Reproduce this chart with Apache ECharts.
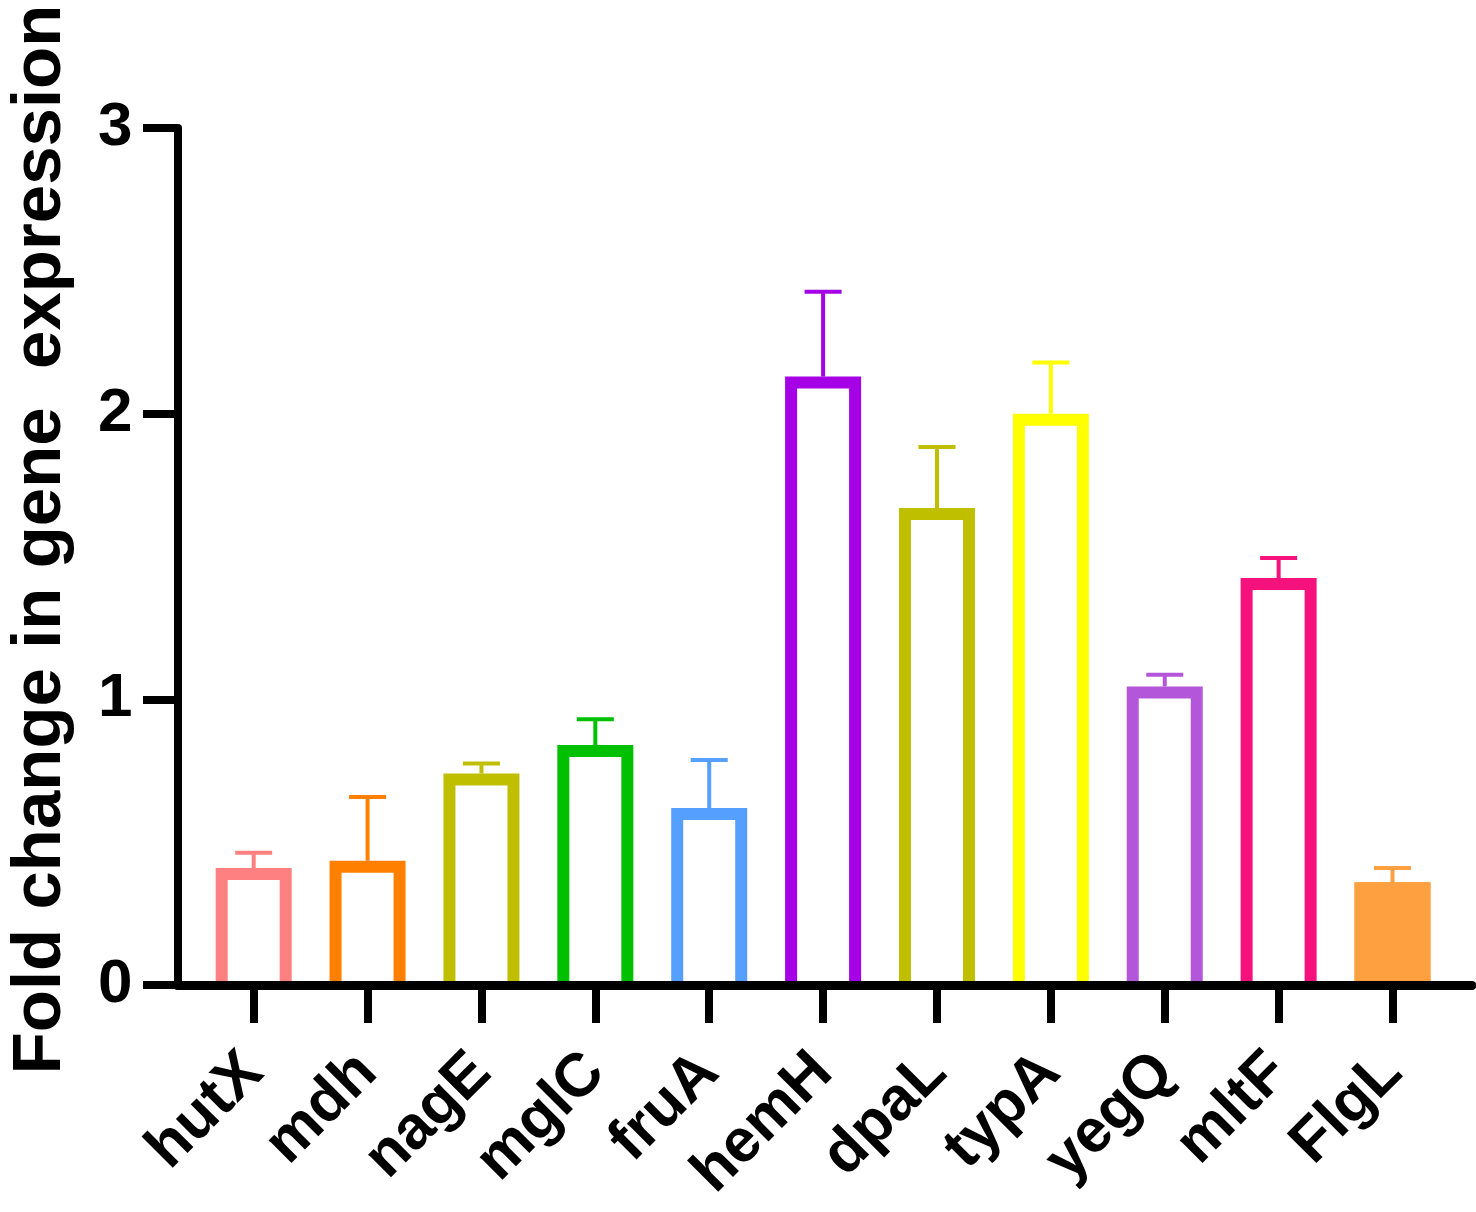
<!DOCTYPE html>
<html>
<head>
<meta charset="utf-8">
<title>Fold change in gene expression</title>
<script src="https://cdn.jsdelivr.net/npm/echarts@6.0.0/dist/echarts.min.js"></script>
<style>
    html, body { margin: 0; padding: 0; background: #fff; }
    #chart { width: 1476px; height: 1212px; }
</style>
</head>
<body>
<div id="chart"></div>
<script>
// gene names along the x axis
var genes = ['hutX', 'mdh', 'nagE', 'mglC', 'fruA', 'hemH', 'dpaL', 'typA', 'yegQ', 'mltF', 'FlgL'];
// mean fold change and upper error (SD)
var foldMean = [0.41, 0.435, 0.74, 0.84, 0.62, 2.13, 1.67, 2.00, 1.045, 1.425, 0.36];
var foldErr = [0.053, 0.223, 0.035, 0.09, 0.168, 0.297, 0.213, 0.179, 0.041, 0.07, 0.05];
var barColors = ['#FF8080', '#FF8000', '#BFBF00', '#00C000', '#55A0FF', '#A600E6',
    '#BFBF00', '#FFFF00', '#B456DA', '#F5127C', '#FFA040'];
// only the last bar is filled
var barFilled = [false, false, false, false, false, false, false, false, false, false, true];
var yTicks = [0, 1, 2, 3];

var fontName = 'Liberation Sans, Arial, Helvetica, sans-serif';

var barData = [];
var errData = [];
var tickPos = [];
for (var i = 0; i < genes.length; i++) {
    tickPos.push(i);
    barData.push([i, foldMean[i]]);
    errData.push([i, foldMean[i], foldMean[i] + foldErr[i]]);
}

// open-bottom bar: white (or solid) box with a thick coloured outline on three sides
var renderBar = function (params, api) {
    var top = api.coord([api.value(0), api.value(1)]);
    var base = api.coord([api.value(0), 0]);
    var c = barColors[params.dataIndex];
    var w = 76, bw = 12;
    var x0 = top[0] - w / 2, x1 = top[0] + w / 2;
    var inset = bw / 2;
    return {
        type: 'group',
        children: [
            {
                type: 'rect',
                shape: { x: x0, y: top[1], width: w, height: base[1] - top[1] },
                style: { fill: barFilled[params.dataIndex] ? c : '#fff' }
            },
            {
                type: 'polyline',
                shape: {
                    points: [
                        [x0 + inset, base[1]],
                        [x0 + inset, top[1] + inset],
                        [x1 - inset, top[1] + inset],
                        [x1 - inset, base[1]]
                    ]
                },
                style: { stroke: c, lineWidth: bw, fill: null, lineJoin: 'miter' }
            }
        ]
    };
};

var renderErr = function (params, api) {
    var base = api.coord([api.value(0), api.value(1)]);
    var top = api.coord([api.value(0), api.value(2)]);
    var c = barColors[params.dataIndex];
    var capHalf = 18.5;
    return {
        type: 'group',
        children: [
            {
                type: 'line',
                shape: { x1: base[0], y1: base[1] + 2, x2: top[0], y2: top[1] },
                style: { stroke: c, lineWidth: 4 }
            },
            {
                type: 'line',
                shape: { x1: top[0] - capHalf, y1: top[1], x2: top[0] + capHalf, y2: top[1] },
                style: { stroke: c, lineWidth: 4 }
            }
        ]
    };
};

var chart = echarts.init(document.getElementById('chart'));

var option = {
    backgroundColor: '#fff',
    animation: false,
    grid: { left: 177.5, right: 4, top: 128, bottom: 227, outerBoundsMode: 'none' },
    xAxis: {
        type: 'value',
        min: -0.669,
        max: 10.698,
        z: 5,
        axisLine: { show: true, lineStyle: { color: '#000', width: 9 } },
        axisTick: {
            show: true,
            customValues: tickPos,
            length: 38,
            lineStyle: { color: '#000', width: 8 }
        },
        axisLabel: {
            customValues: tickPos,
            rotate: 45,
            margin: 78,
            color: '#000',
            fontFamily: fontName,
            fontWeight: 'bold',
            fontSize: 61,
            formatter: function (v) { return genes[Math.round(v)]; }
        },
        splitLine: { show: false }
    },
    yAxis: {
        type: 'value',
        min: yTicks[0],
        max: yTicks[yTicks.length - 1],
        interval: 1,
        z: 5,
        name: 'Fold change in gene  expression',
        nameLocation: 'middle',
        nameGap: 102,
        nameTextStyle: {
            color: '#000',
            fontFamily: fontName,
            fontWeight: 'bold',
            fontSize: 69,
            padding: [0, 0, 0, 34]
        },
        axisLine: { show: true, onZero: false, lineStyle: { color: '#000', width: 8 } },
        axisTick: { show: true, length: 34.5, lineStyle: { color: '#000', width: 8 } },
        axisLabel: {
            margin: 45,
            color: '#000',
            fontFamily: fontName,
            fontWeight: 'bold',
            fontSize: 62
        },
        splitLine: { show: false }
    },
    series: [
        {
            type: 'custom',
            renderItem: renderBar,
            data: barData,
            z: 2
        },
        {
            type: 'custom',
            renderItem: renderErr,
            data: errData,
            z: 1
        }
    ]
};

chart.setOption(option);
</script>
</body>
</html>
